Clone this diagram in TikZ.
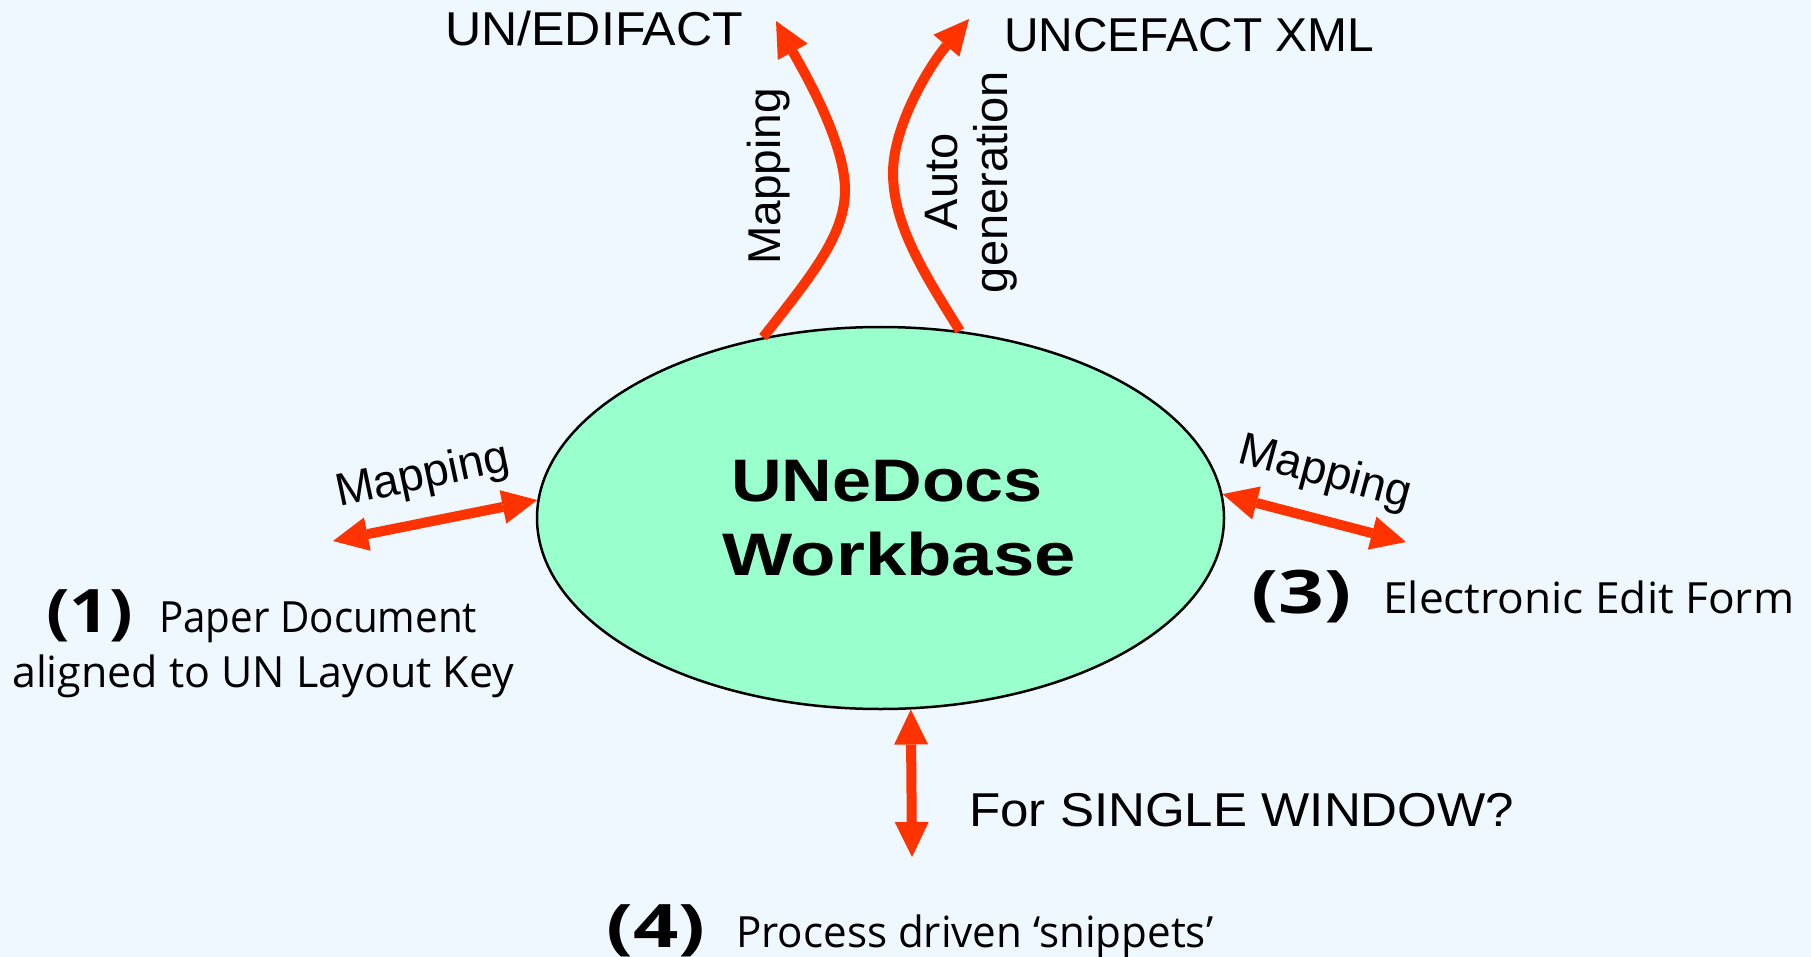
\documentclass[tikz,border=0pt]{standalone}
\usepackage{fontspec}
\usepackage{graphicx}
\setmainfont{Liberation Sans}
\newfontfamily\comicf{Open Sans}
\usetikzlibrary{shapes.geometric,arrows.meta}
\definecolor{bgc}{HTML}{F0F8FF}
\definecolor{ellc}{HTML}{99FFCC}
\definecolor{arrc}{HTML}{FF3300}
\newsavebox\fitbox
\newcommand\fitw[2]{\sbox\fitbox{#2}\pgfmathsetmacro\fitfx{#1/\wd\fitbox}\scalebox{\fitfx}[1]{\usebox\fitbox}}
\begin{document}
\begin{tikzpicture}[x=1pt,y=-1pt,
  >={Triangle[length=35pt,width=34pt,line width=0pt]},
  conn/.style={draw=arrc, line width=10pt, ->},
  dconn/.style={draw=arrc, line width=10pt, <->},
  wbstyle/.style={ellipse, draw=black, line width=2.5pt, fill=ellc,
    minimum width=687pt, minimum height=382pt, inner sep=0pt, align=center,
    font=\bfseries\fontsize{60}{74}\selectfont},
  lbltxt/.style={inner sep=0pt, anchor=base west, font=\fontsize{47.5}{50}\selectfont},
  rlbltxt/.style={inner sep=0pt, anchor=base, font=\fontsize{46}{50}\selectfont},
  slbltxt/.style={inner sep=0pt, font=\fontsize{46}{50}\selectfont},
  comictxt/.style={inner sep=0pt, anchor=base west, font=\comicf\fontsize{43}{50}\selectfont},
  numtxt/.style={inner sep=0pt, anchor=base west, font=\comicf\bfseries\fontsize{60}{60}\selectfont}]
\fill[bgc] (0,0) rectangle (1811,957);
\useasboundingbox (0,0) rectangle (1811,957);

\node[wbstyle] (wb) at (880.5,518) {\hspace*{13pt}\fitw{312}{UNeDocs}\\\hspace*{37pt}\fitw{354}{Workbase}};

\node[lbltxt] (edi) at (445,46) {\fitw{298}{UN/EDIFACT}};
\node[lbltxt] (xml) at (1004,52) {\fitw{370}{UNCEFACT XML}};
\node[lbltxt] (sw) at (969,826) {\fitw{545}{For SINGLE WINDOW?}};

\node[rlbltxt, rotate=90] (mapT) at (780,176.5) {Mapping};
\node[rlbltxt, rotate=90, align=center, font=\fontsize{47}{50}\selectfont] (auto) at (1007,182) {Auto\\generation};

\node[slbltxt, rotate=12] (mapL) at (423,477) {Mapping};
\node[slbltxt, rotate=-15] (mapR) at (1325,474) {Mapping};

\node[numtxt] (n1) at (46,632) {\fitw{87}{(1)}};
\node[comictxt] (t1a) at (159,632) {\fitw{318}{Paper Document}};
\node[comictxt] (t1b) at (12,687) {\fitw{502}{aligned to UN Layout Key}};
\node[numtxt] (n3) at (1251,613) {\fitw{100}{(3)}};
\node[comictxt] (t3) at (1383,613) {\fitw{411}{Electronic Edit Form}};
\node[numtxt] (n4) at (606,947) {\fitw{99}{(4)}};
\node[comictxt] (t4) at (736,947) {\fitw{477}{Process driven ‘snippets’}};

\coordinate (eT1) at (776,21);
\coordinate (eT2) at (969,19);
\coordinate (eL) at (333,541);
\coordinate (eR) at (1406,542);
\coordinate (eB) at (912,857);

\draw[conn] (wb.123) .. controls (812,275) and (845,235) .. (845,190) .. controls (845,140) and (800,65) .. (eT1);
\draw[conn] (wb.67) .. controls (925,275) and (893,225) .. (893,173) .. controls (893,125) and (930,65) .. (eT2);
\draw[dconn] (wb.177) -- (eL);
\draw[dconn] (wb.4) -- (eR);
\draw[dconn] (wb.279) -- (eB);
\end{tikzpicture}
\end{document}
